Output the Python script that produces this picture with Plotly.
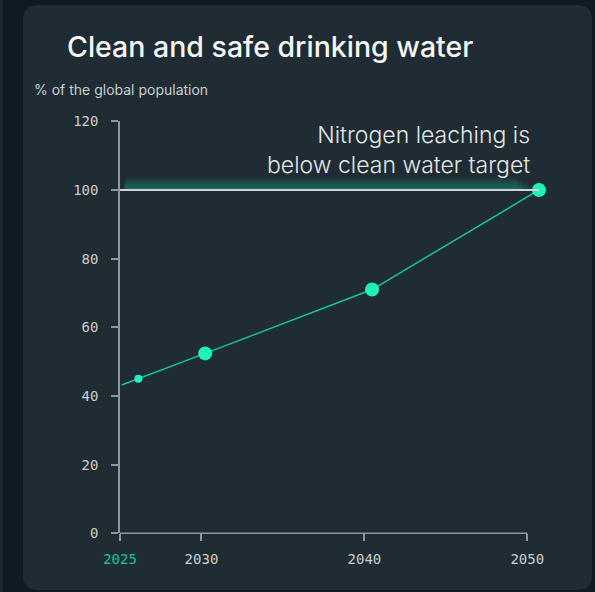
import plotly.graph_objects as go

# ---- data ----
years = [2025, 2026, 2030, 2040, 2050]
share = [43.2, 45.0, 52.4, 71.0, 100.0]
marker_sizes = [0, 8, 14, 14, 14]
target_value = 100
tick_years = [2025, 2030, 2040, 2050]
tick_labels = ["2025", "2030", "2040", "2050"]
y_ticks = [0, 20, 40, 60, 80, 100, 120]

W, H = 595, 592
def px(x): return x / W
def py(y): return 1 - y / H

BG = "#0e1c22"
CARD = "#1f2c34"
TEAL = "#20f0bb"
GLOW = "#1de9b6"
LINE_TEAL = "#17c49c"
AXIS = "#8d979c"
TXT = "#c9cecf"

fig = go.Figure()

fig.add_trace(go.Scatter(
    x=years, y=share, xaxis="x2", yaxis="y",
    mode="lines+markers",
    line=dict(color=LINE_TEAL, width=1.5),
    marker=dict(color=TEAL, size=marker_sizes, opacity=1, line=dict(width=0)),
    cliponaxis=False, hoverinfo="skip", showlegend=False,
))

shapes = []
x0, x1, y0, y1, r = 23, 592, 5, 590, 15
path = (f"M {px(x0+r)},{py(y0)} L {px(x1-r)},{py(y0)} Q {px(x1)},{py(y0)} {px(x1)},{py(y0+r)} "
        f"L {px(x1)},{py(y1-r)} Q {px(x1)},{py(y1)} {px(x1-r)},{py(y1)} "
        f"L {px(x0+r)},{py(y1)} Q {px(x0)},{py(y1)} {px(x0)},{py(y1-r)} "
        f"L {px(x0)},{py(y0+r)} Q {px(x0)},{py(y0)} {px(x0+r)},{py(y0)} Z")
shapes.append(dict(type="path", path=path, xref="paper", yref="paper",
                   fillcolor=CARD, line=dict(width=0), layer="below"))
shapes.append(dict(type="rect", xref="paper", yref="paper", x0=0, x1=px(2.5), y0=0, y1=1,
                   fillcolor=CARD, line=dict(width=0), layer="below"))
# glow: stacked translucent bands, fading toward the right end
for h, xs, xe in [(0.7, 2025.05, 2049.9), (1.4, 2025.1, 2049.6), (2.1, 2025.15, 2049.3),
                  (2.8, 2025.2, 2049.0), (3.5, 2025.25, 2048.7)]:
    shapes.append(dict(type="rect", xref="x2", yref="y", x0=xs, x1=xe,
                       y0=target_value, y1=target_value + h,
                       fillcolor=GLOW, opacity=0.08, line=dict(width=0), layer="above"))
shapes.append(dict(type="line", xref="x2", yref="y", x0=2024.9, x1=2050,
                   y0=target_value, y1=target_value,
                   line=dict(color="#cdd5d4", width=2), layer="above"))
shapes.append(dict(type="line", xref="x", yref="paper", x0=2025, x1=2050,
                   y0=py(533.3), y1=py(533.3), line=dict(color=AXIS, width=1.5)))

annotations = [
    dict(text="Clean and safe drinking water", xref="paper", yref="paper",
         x=px(65), y=py(46), xanchor="left", yanchor="middle", showarrow=False,
         font=dict(family="Inter", size=28.5, color="#f4f6f6", weight=500)),
    dict(text="% of the global population", xref="paper", yref="paper",
         x=px(32), y=py(90), xanchor="left", yanchor="middle", showarrow=False,
         font=dict(family="Inter", size=14, color=TXT)),
    dict(text="Nitrogen leaching is<br>below clean water target", xref="paper", yref="paper",
         x=px(532), y=py(150), xanchor="right", yanchor="middle", align="right",
         showarrow=False,
         font=dict(family="Inter", size=23, color="#e2e6e6", weight=300)),
]

tick_text = [f'<span style="color:{LINE_TEAL}">{t}</span>' if i == 0 else t
             for i, t in enumerate(tick_labels)]

slope_t = (527.3 - 120) / 25
slope_d = (539 - 121.7) / 25
dom = [px(120), px(545)]

fig.update_layout(
    width=W, height=H, autosize=False,
    margin=dict(l=0, r=0, t=0, b=0, pad=0),
    paper_bgcolor=BG, plot_bgcolor="rgba(0,0,0,0)",
    shapes=shapes, annotations=annotations,
    xaxis=dict(domain=dom, range=[2025, 2025 + 425 / slope_t], automargin=False,
               tickvals=tick_years, ticktext=tick_text,
               ticks="outside", ticklen=7, tickwidth=1.5, tickcolor=AXIS,
               showline=False, showgrid=False, zeroline=False,
               tickfont=dict(family="DejaVu Sans Mono", size=14, color=TXT),
               ticklabelstandoff=6, fixedrange=True),
    xaxis2=dict(overlaying="x", visible=False, automargin=False,
                range=[2025 - 1.7 / slope_d, 2025 - 1.7 / slope_d + 425 / slope_d],
                fixedrange=True),
    yaxis=dict(domain=[py(533.3), py(121.3)], range=[0, 120], tickvals=y_ticks,
               automargin=False,
               ticks="outside", ticklen=7, tickwidth=1.5, tickcolor=AXIS,
               showline=True, linecolor=AXIS, linewidth=1.5,
               showgrid=False, zeroline=False,
               tickfont=dict(family="DejaVu Sans Mono", size=14, color=TXT),
               ticklabelstandoff=10, fixedrange=True),
)

fig.write_html("out.html", config={"displayModeBar": False},
               post_script="document.body.style.margin='0';")
